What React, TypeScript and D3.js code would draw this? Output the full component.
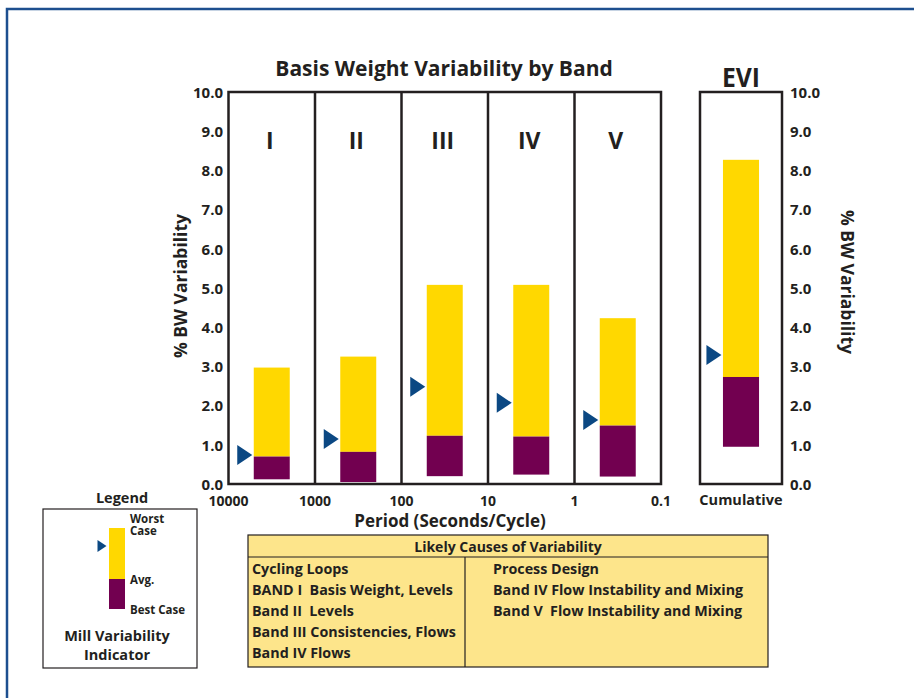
import React from "react";
import * as d3 from "d3";

const bands = ["I", "II", "III", "IV", "V"];
const bandEdges = [10000, 1000, 100, 10, 1, 0.1];
const edgeLabels = ["10000", "1000", "100", "10", "1", "0.1"];
const worstCase = [2.97, 3.25, 5.08, 5.08, 4.23];
const avgCase = [0.7, 0.82, 1.23, 1.21, 1.49];
const bestCase = [0.12, 0.05, 0.2, 0.24, 0.19];
const indicator = [0.74, 1.15, 2.48, 2.07, 1.63];

const eviCategory = ["Cumulative"];
const eviWorst = [8.27];
const eviAvg = [2.73];
const eviBest = [0.95];
const eviIndicator = [3.29];

const yTicks = [0, 1, 2, 3, 4, 5, 6, 7, 8, 9, 10];

const tableHeader = "Likely Causes of Variability";
const tableColumns = ["Cycling Loops", "Process Design"];
const cyclingLoops = [
  "BAND I  Basis Weight, Levels",
  "Band II  Levels",
  "Band III Consistencies, Flows",
  "Band IV Flows",
];
const processDesign = [
  "Band IV Flow Instability and Mixing",
  "Band V  Flow Instability and Mixing",
];

const YELLOW = "#ffd800";
const PURPLE = "#720050";
const BLUE = "#0b4883";
const INK = "#231f20";
const FONT = "'Open Sans', Lato, sans-serif";

export default function App() {
  const y = d3.scaleLinear().domain([0, 10]).range([484, 92]);
  const x = d3.scaleLog().domain([10000, 0.1]).range([228.5, 661]);
  const xE = d3.scaleBand().domain(eviCategory).range([700, 782]);
  const fmt = d3.format(".1f");
  const halfDec = 0.208;

  const tri = (tipX: number, cy: number, w: number, h: number) =>
    `M${tipX},${cy} L${tipX - w},${cy - h / 2} L${tipX - w},${cy + h / 2} Z`;

  const bandBars = bands.map((b, i) => {
    const lo = Math.log10(bandEdges[i]);
    const hi = Math.log10(bandEdges[i + 1]);
    const c = (lo + hi) / 2;
    const x0 = x(Math.pow(10, c + halfDec));
    const x1 = x(Math.pow(10, c - halfDec));
    const cx = x(Math.pow(10, c));
    return { b, i, x0, x1, cx };
  });

  const eviX0 = (xE("Cumulative") as number) + xE.bandwidth() * 0.28;
  const eviX1 = (xE("Cumulative") as number) + xE.bandwidth() * 0.72;
  const eviCx = (xE("Cumulative") as number) + xE.bandwidth() / 2;

  return (
    <svg width={914} height={698} style={{ display: "block", position: "absolute", left: 0, top: 0 }}>
      <rect x={0} y={0} width={914} height={698} fill="#fff" />
      {/* outer frame */}
      <rect x={7} y={9} width={930} height={720} fill="none" stroke="#1d4f8f" strokeWidth={2.5} />

      <g fontFamily={FONT} fontWeight={700} fill={INK}>
        {/* title */}
        <text x={444} y={76} textAnchor="middle" fontSize={21}>Basis Weight Variability by Band</text>
        <text x={741} y={87} textAnchor="middle" fontSize={26} textLength={38} lengthAdjust="spacingAndGlyphs">EVI</text>

        {/* y axes ticks */}
        {yTicks.map((t) => (
          <text key={"l" + t} x={223} y={y(t) + 0.5} dy="0.35em" textAnchor="end" fontSize={15}>{fmt(t)}</text>
        ))}
        {yTicks.map((t) => (
          <text key={"r" + t} x={790} y={y(t) + 0.5} dy="0.35em" textAnchor="start" fontSize={15}>{fmt(t)}</text>
        ))}
        <text transform="translate(181,286) rotate(-90)" textAnchor="middle" dy="0.35em" fontSize={17.5}>% BW Variability</text>
        <text transform="translate(847,282) rotate(90)" textAnchor="middle" dy="0.35em" fontSize={17.5}>% BW Variability</text>

        {/* x labels */}
        {bandEdges.map((v, i) => (
          <text key={"x" + i} x={x(v)} y={506} textAnchor="middle" fontSize={14}>{edgeLabels[i]}</text>
        ))}
        <text x={450} y={527} textAnchor="middle" fontSize={17}>Period (Seconds/Cycle)</text>
        <text x={eviCx} y={505} textAnchor="middle" fontSize={14.5}>Cumulative</text>

        {/* roman numerals */}
        {bandBars.map((d) => (
          <text key={"n" + d.i} x={d.cx - 2} y={149} textAnchor="middle" fontSize={23}>{d.b}</text>
        ))}
      </g>

      {/* bars */}
      {bandBars.map((d) => (
        <g key={"bar" + d.i}>
          <rect x={d.x0} y={y(worstCase[d.i])} width={d.x1 - d.x0} height={y(avgCase[d.i]) - y(worstCase[d.i])} fill={YELLOW} />
          <rect x={d.x0} y={y(avgCase[d.i])} width={d.x1 - d.x0} height={y(bestCase[d.i]) - y(avgCase[d.i])} fill={PURPLE} />
          <path d={tri(d.x0 - 1.5, y(indicator[d.i]), 15, 20)} fill={BLUE} />
        </g>
      ))}
      {/* evi bar */}
      <rect x={eviX0} y={y(eviWorst[0])} width={eviX1 - eviX0} height={y(eviAvg[0]) - y(eviWorst[0])} fill={YELLOW} />
      <rect x={eviX0} y={y(eviAvg[0])} width={eviX1 - eviX0} height={y(eviBest[0]) - y(eviAvg[0])} fill={PURPLE} />
      <path d={tri(eviX0 - 1.5, y(eviIndicator[0]), 15, 20)} fill={BLUE} />

      {/* band frame */}
      <rect x={x(10000)} y={y(10)} width={x(0.1) - x(10000)} height={y(0) - y(10)} fill="none" stroke={INK} strokeWidth={2.5} />
      {bandEdges.slice(1, -1).map((v, i) => (
        <line key={"div" + i} x1={x(v)} x2={x(v)} y1={y(10)} y2={y(0)} stroke={INK} strokeWidth={2.5} />
      ))}
      <rect x={xE("Cumulative") as number} y={y(10)} width={xE.bandwidth()} height={y(0) - y(10)} fill="none" stroke={INK} strokeWidth={2.5} />

      {/* legend */}
      <g fontFamily={FONT} fontWeight={700} fill={INK}>
        <text x={122} y={503} textAnchor="middle" fontSize={14.5}>Legend</text>
        <rect x={43} y={509} width={154} height={159} fill="none" stroke={INK} strokeWidth={1.2} />
        <rect x={109} y={528} width={16} height={51} fill={YELLOW} />
        <rect x={109} y={579} width={16} height={30} fill={PURPLE} />
        <path d={tri(106.5, 546, 9, 12)} fill={BLUE} />
        <text x={130} y={523} fontSize={11.5}>Worst</text>
        <text x={130} y={535} fontSize={11.5}>Case</text>
        <text x={130} y={584} fontSize={11.5}>Avg.</text>
        <text x={130} y={614} fontSize={11.5}>Best Case</text>
        <text x={117} y={641} textAnchor="middle" fontSize={14.5}>Mill Variability</text>
        <text x={117} y={660} textAnchor="middle" fontSize={14.5}>Indicator</text>
      </g>

      {/* table */}
      <g fontFamily={FONT} fontWeight={700} fill={INK}>
        <rect x={248} y={535} width={520} height={132} fill="#fde58b" stroke={INK} strokeWidth={1.2} />
        <line x1={248} x2={768} y1={557} y2={557} stroke={INK} strokeWidth={1.2} />
        <line x1={465} x2={465} y1={557} y2={667} stroke={INK} strokeWidth={1.2} />
        <text x={508} y={552} textAnchor="middle" fontSize={14}>{tableHeader}</text>
        <text x={252} y={574} fontSize={14.3}>{tableColumns[0]}</text>
        <text x={493} y={574} fontSize={14.3}>{tableColumns[1]}</text>
        {cyclingLoops.map((t, i) => (
          <text key={"c" + i} x={252} y={595 + i * 21} fontSize={14.3} style={{ whiteSpace: "pre" }}>{t}</text>
        ))}
        {processDesign.map((t, i) => (
          <text key={"p" + i} x={493} y={595 + i * 21} fontSize={14.3} style={{ whiteSpace: "pre" }}>{t}</text>
        ))}
      </g>
    </svg>
  );
}
